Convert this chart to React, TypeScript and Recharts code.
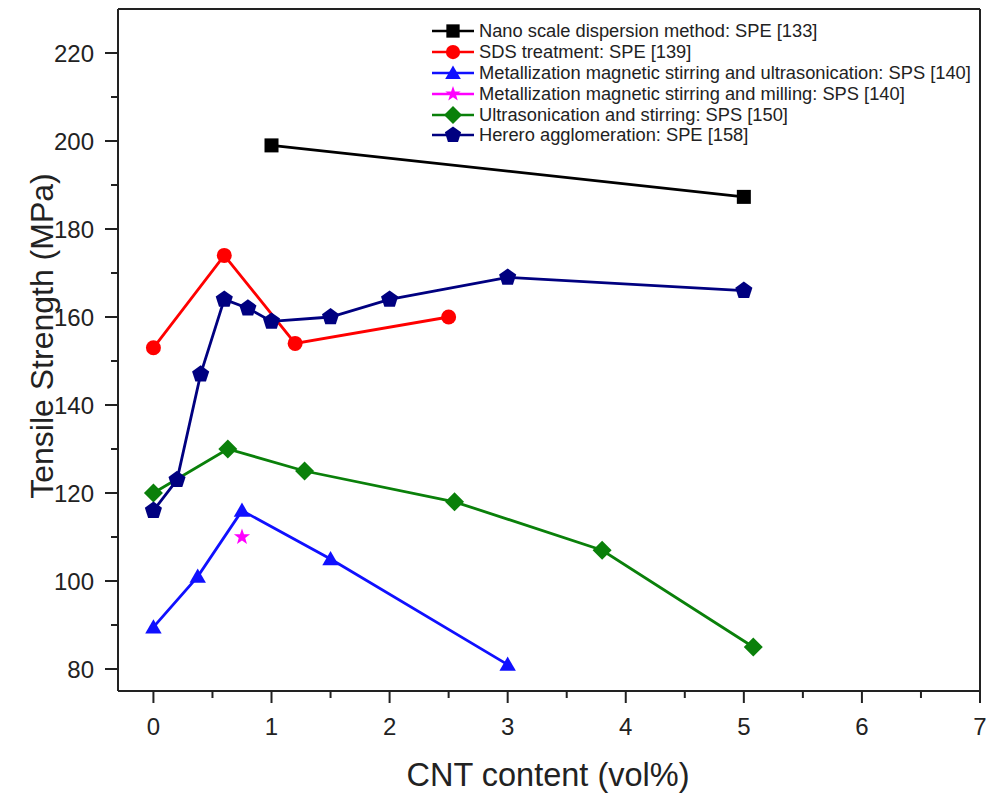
import React from "react";
import { LineChart, Line, XAxis, YAxis, ReferenceLine, Legend } from "recharts";

// ---- data ----
const blackX = [1, 5];
const blackY = [199, 187.3];
const redX = [0, 0.6, 1.2, 2.5];
const redY = [153, 174, 154, 160];
const blueX = [0, 0.375, 0.75, 1.5, 3];
const blueY = [89.5, 101, 116, 105, 81];
const starX = [0.75];
const starY = [110];
const greenX = [0, 0.63, 1.28, 2.55, 3.8, 5.08];
const greenY = [120, 130, 125, 118, 107, 85];
const navyX = [0, 0.2, 0.4, 0.6, 0.8, 1, 1.5, 2, 3, 5];
const navyY = [116, 123, 147, 164, 162, 159, 160, 164, 169, 166];

const seriesNames = [
  "Nano scale dispersion method: SPE [133]",
  "SDS treatment: SPE [139]",
  "Metallization magnetic stirring and ultrasonication: SPS [140]",
  "Metallization magnetic stirring and milling: SPS [140]",
  "Ultrasonication and stirring: SPS [150]",
  "Herero agglomeration: SPE [158]",
];

const xTicks = [0, 0.5, 1, 1.5, 2, 2.5, 3, 3.5, 4, 4.5, 5, 5.5, 6, 6.5, 7];
const xMajor = [0, 1, 2, 3, 4, 5, 6, 7];
const yTicks = [80, 90, 100, 110, 120, 130, 140, 150, 160, 170, 180, 190, 200, 210, 220];
const yMajor = [80, 100, 120, 140, 160, 180, 200, 220];

const zip = (xs: number[], ys: number[]) => xs.map((x, i) => ({ x, y: ys[i] }));

type Shape = "square" | "circle" | "triangle" | "star" | "diamond" | "pentagon";

const series: { name: string; color: string; shape: Shape; data: { x: number; y: number }[]; line: boolean }[] = [
  { name: seriesNames[0], color: "#000000", shape: "square", data: zip(blackX, blackY), line: true },
  { name: seriesNames[1], color: "#ff0000", shape: "circle", data: zip(redX, redY), line: true },
  { name: seriesNames[2], color: "#1010ff", shape: "triangle", data: zip(blueX, blueY), line: true },
  { name: seriesNames[3], color: "#ff00ff", shape: "star", data: zip(starX, starY), line: false },
  { name: seriesNames[4], color: "#0a800a", shape: "diamond", data: zip(greenX, greenY), line: true },
  { name: seriesNames[5], color: "#000080", shape: "pentagon", data: zip(navyX, navyY), line: true },
];

const FONT = "'Liberation Sans', Arial, Helvetica, sans-serif";

function polyPoints(cx: number, cy: number, n: number, r: number, rot: number, inner?: number) {
  const pts: string[] = [];
  const count = inner ? n * 2 : n;
  for (let i = 0; i < count; i++) {
    const rr = inner ? (i % 2 === 0 ? r : inner) : r;
    const a = rot + (i * 2 * Math.PI) / count;
    pts.push(`${cx + rr * Math.cos(a)},${cy + rr * Math.sin(a)}`);
  }
  return pts.join(" ");
}

function Marker({ cx, cy, shape, color, scale = 1 }: { cx: number; cy: number; shape: Shape; color: string; scale?: number }) {
  const s = scale;
  switch (shape) {
    case "square":
      return <rect x={cx - 7 * s} y={cy - 7 * s} width={14 * s} height={14 * s} fill={color} />;
    case "circle":
      return <circle cx={cx} cy={cy} r={7.5 * s} fill={color} />;
    case "triangle":
      return <polygon points={polyPoints(cx, cy + 1.5 * s, 3, 9.5 * s, -Math.PI / 2)} fill={color} />;
    case "star":
      return <polygon points={polyPoints(cx, cy, 5, 8.5 * s, -Math.PI / 2, 3.4 * s)} fill={color} />;
    case "diamond":
      return <polygon points={polyPoints(cx, cy, 4, 9.5 * s, -Math.PI / 2)} fill={color} />;
    case "pentagon":
      return <polygon points={polyPoints(cx, cy, 5, 9 * s, -Math.PI / 2)} fill={color} />;
  }
  return null;
}

const XTick = (props: any) => {
  const { x, y, payload } = props;
  const v = payload.value;
  const major = xMajor.includes(v);
  return (
    <g>
      <line x1={x} x2={x} y1={y} y2={y + (major ? 12 : 7)} stroke="#222" strokeWidth={2} />
      {major && (
        <text x={x} y={y + 44} textAnchor="middle" fontSize={24} fontFamily={FONT} fill="#222">
          {v}
        </text>
      )}
    </g>
  );
};

const YTick = (props: any) => {
  const { x, y, payload } = props;
  const v = payload.value;
  const major = yMajor.includes(v);
  return (
    <g>
      <line x1={x} x2={x - (major ? 13 : 7)} y1={y} y2={y} stroke="#222" strokeWidth={2} />
      {major && (
        <text x={x - 24} y={y + 8.5} textAnchor="end" fontSize={24} fontFamily={FONT} fill="#222">
          {v}
        </text>
      )}
    </g>
  );
};

const XLabel = (props: any) => {
  const vb = props.viewBox || { x: 118, y: 691, width: 862 };
  return (
    <text x={vb.x + vb.width / 2 - 1} y={vb.y + 95} textAnchor="middle" fontSize={32.5} fontFamily={FONT} fill="#222">
      CNT content (vol%)
    </text>
  );
};

const YLabel = (props: any) => {
  const vb = props.viewBox || { x: 18, y: 9, width: 100, height: 682 };
  const cx = vb.x + 24;
  const cy = 336;
  return (
    <text x={cx} y={cy} transform={`rotate(-90 ${cx} ${cy})`} textAnchor="middle" dominantBaseline="central" fontSize={32} fontFamily={FONT} fill="#222">
      Tensile Strength (MPa)
    </text>
  );
};

const LegendContent = () => (
  <div style={{ fontFamily: FONT, fontSize: 18.3, color: "#222" }}>
    {series.map((s) => (
      <div key={s.name} style={{ display: "flex", alignItems: "center", height: 20.8, whiteSpace: "nowrap" }}>
        <svg width={46} height={20} style={{ flex: "none" }}>
          <line x1={2} x2={44} y1={10} y2={10} stroke={s.color} strokeWidth={2.5} />
          <Marker cx={23} cy={10} shape={s.shape} color={s.color} scale={0.95} />
        </svg>
        <span style={{ marginLeft: 3 }}>{s.name}</span>
      </div>
    ))}
  </div>
);

export default function App() {
  return (
    <div style={{ position: "absolute", left: 0, top: 0, width: 986, height: 793, background: "#fff" }}>
      <LineChart width={986} height={793} margin={{ top: 9, right: 6, left: 18, bottom: 42 }}>
        <XAxis
          dataKey="x"
          type="number"
          domain={[-0.3, 7]}
          ticks={xTicks}
          interval={0}
          allowDataOverflow
          tickSize={0}
          tickMargin={0}
          tickLine={false}
          tick={<XTick />}
          height={60}
          axisLine={{ stroke: "#222", strokeWidth: 2 }}
          label={<XLabel />}
        />
        <YAxis
          type="number"
          domain={[75, 230]}
          ticks={yTicks}
          interval={0}
          allowDataOverflow
          tickSize={0}
          tickMargin={0}
          tickLine={false}
          tick={<YTick />}
          width={100}
          axisLine={{ stroke: "#222", strokeWidth: 2 }}
          label={<YLabel />}
        />
        <ReferenceLine y={230} stroke="#222" strokeWidth={2} />
        <ReferenceLine x={7} stroke="#222" strokeWidth={2} />
        {series.map((s, si) => (
          <Line
            key={s.name}
            data={s.data}
            dataKey="y"
            name={s.name}
            type="linear"
            stroke={s.line ? s.color : "none"}
            strokeWidth={2.8}
            isAnimationActive={false}
            dot={(p: any) => (
              <Marker key={`m-${si}-${p.index}`} cx={p.cx} cy={p.cy} shape={s.shape} color={s.color} />
            )}
            activeDot={false}
          />
        ))}
        <Legend
          layout="vertical"
          align="center"
          verticalAlign="middle"
          content={<LegendContent />}
          wrapperStyle={{ position: "absolute", left: 430, top: 21, width: 555 }}
        />
      </LineChart>
    </div>
  );
}
